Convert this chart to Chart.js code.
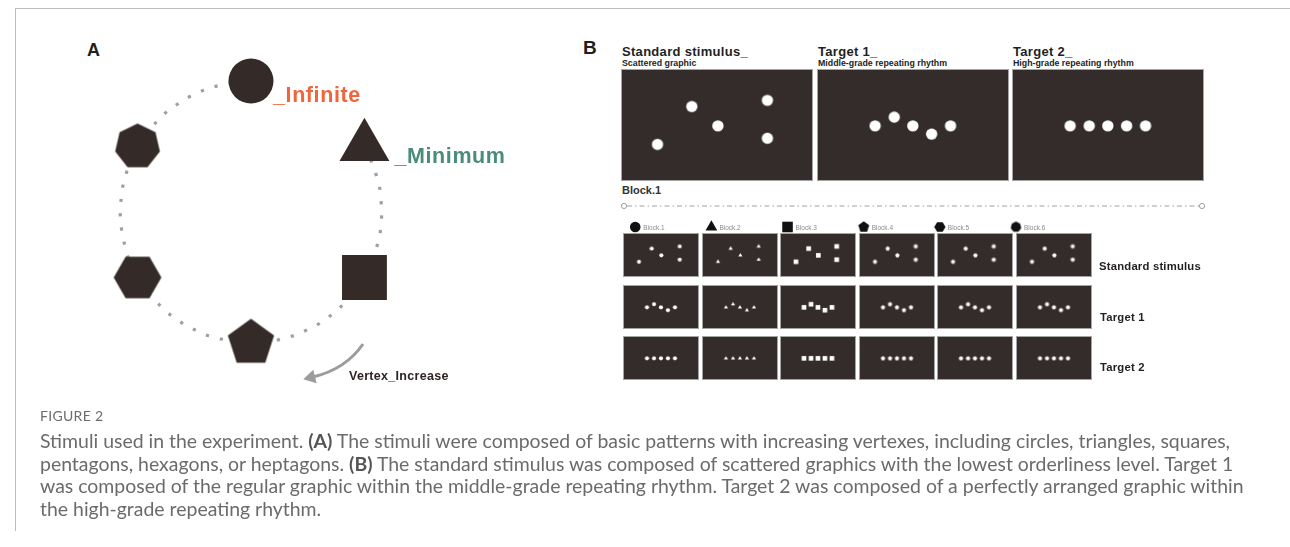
<!DOCTYPE html>
<html>
<head>
<meta charset="utf-8">
<script src="https://cdn.jsdelivr.net/npm/chart.js@4.4.0/dist/chart.umd.min.js"></script>
<style>
html,body{margin:0;padding:0;background:#fff;}
#page{position:relative;width:1290px;height:547px;overflow:hidden;font-family:"Liberation Sans",Arial,sans-serif;color:#231f1e;}
.t{position:absolute;white-space:nowrap;line-height:0;}
canvas{position:absolute;}
.frame{position:absolute;left:15px;top:8px;width:1290px;height:522px;border-top:1px solid #bdbdbd;border-left:1px solid #bdbdbd;}
.stim{background:#342c2a;border:1px solid #a4a4a4;}
#caption{position:absolute;left:40px;top:407px;font-family:Lato,"Open Sans",sans-serif;color:#6b6b6b;}
#caption .fig{font-size:14px;letter-spacing:0.3px;color:#6b6b6b;line-height:18px;}
#caption .body{font-size:17.4px;line-height:22.7px;white-space:nowrap;margin-top:5px;}
#caption b{color:#555;}
</style>
</head>
<body>
<div id="page">
  <div class="frame"></div>

  <!-- Panel A -->
  <div class="t" style="left:87px;top:50px;font-size:18px;font-weight:bold;">A</div>
  <canvas id="ringChart" width="560" height="400" style="left:0;top:0;"></canvas>

  <!-- Panel B -->
  <div class="t" style="left:583px;top:48px;font-size:19px;font-weight:bold;">B</div>
  <div class="t" style="left:622px;top:52px;font-size:13px;font-weight:bold;letter-spacing:0.3px;">Standard stimulus_</div>
  <div class="t" style="left:622px;top:62.5px;font-size:8.8px;font-weight:bold;">Scattered graphic</div>
  <div class="t" style="left:818px;top:52px;font-size:13px;font-weight:bold;letter-spacing:0.3px;">Target 1_</div>
  <div class="t" style="left:818px;top:62.5px;font-size:8.8px;font-weight:bold;">Middle-grade repeating rhythm</div>
  <div class="t" style="left:1013px;top:52px;font-size:13px;font-weight:bold;letter-spacing:0.3px;">Target 2_</div>
  <div class="t" style="left:1013px;top:62.5px;font-size:8.8px;font-weight:bold;">High-grade repeating rhythm</div>
  <div class="t" style="left:622px;top:190px;font-size:11px;font-weight:bold;color:#333;">Block.1</div>
  <svg style="position:absolute;left:0;top:0;" width="1290" height="547">
    <line x1="627" y1="206" x2="1199" y2="206" stroke="#a0a0a0" stroke-width="1" stroke-dasharray="5 3 1.5 3"/>
    <circle cx="624" cy="206" r="2.6" fill="#fff" stroke="#a0a0a0" stroke-width="1"/>
    <circle cx="1202" cy="206" r="2.6" fill="#fff" stroke="#a0a0a0" stroke-width="1"/>
  </svg>
  <canvas id="blockIcons" width="480" height="22" style="left:620px;top:216px;"></canvas>
  <div class="t" style="left:1099px;top:266px;font-size:11.3px;font-weight:bold;letter-spacing:0.2px;">Standard stimulus</div>
  <div class="t" style="left:1100px;top:317px;font-size:11.3px;font-weight:bold;letter-spacing:0.2px;">Target 1</div>
  <div class="t" style="left:1100px;top:367px;font-size:11.3px;font-weight:bold;letter-spacing:0.2px;">Target 2</div>

  <div id="caption">
    <div class="fig">FIGURE 2</div>
    <div class="body" id="capBody"><span id="capLine1">Stimuli used in the experiment. <b>(A)</b> The stimuli were composed of basic patterns with increasing vertexes, including circles, triangles, squares,</span><br>pentagons, hexagons, or heptagons. <b>(B)</b> The standard stimulus was composed of scattered graphics with the lowest orderliness level. Target 1<br>was composed of the regular graphic within the middle-grade repeating rhythm. Target 2 was composed of a perfectly arranged graphic within<br>the high-grade repeating rhythm.</div>
  </div>
</div>

<script>
// ================= DATA =================
// Panel A: shapes arranged on a ring (angle in degrees, clockwise from top)
const shapeNames    = ['circle', 'triangle', 'rect', 'pentagon', 'hexagon', 'heptagon'];
const shapeAngles   = [0, 60, 120, 180, 240, 300];
const shapeDistance = [1, 1, 1, 1, 1, 1];
const shapeLabels   = ['_Infinite', '_Minimum'];
const arrowLabel    = 'Vertex_Increase';
// Ring slots every 10 degrees
const ringAngles = [0,10,20,30,40,50,60,70,80,90,100,110,120,130,140,150,160,170,
                    180,190,200,210,220,230,240,250,260,270,280,290,300,310,320,330,340,350];
// Dotted path along the ring (gap between circle and triangle)
const ringPath   = [1,null,null,null,null,null,1,1,1,1,1,1,1,1,1,1,1,1,
                    1,1,1,1,1,1,1,1,1,1,1,1,1,1,1,1,1,1];

// Panel B: stimulus layouts (percent of frame width / height)
const scatteredX = [16.7, 35.9, 50.5, 78.2, 78.2];
const scatteredY = [69.6, 31.3, 50.9, 25.0, 63.4];
const target1X   = [28.8, 39.5, 49.9, 60.4, 71.0];
const target1Y   = [50.9, 42.0, 50.9, 59.2, 50.9];
const target2X   = [28.8, 39.5, 49.9, 60.4, 71.0];
const target2Y   = [50.9, 50.9, 50.9, 50.9, 50.9];
const blockNumbers = [1, 2, 3, 4, 5, 6];
const blockLabels  = ['Block.1', 'Block.2', 'Block.3', 'Block.4', 'Block.5', 'Block.6'];
const blockShapes  = ['circle', 'triangle', 'rect', 'pentagon', 'hexagon', 'heptagon'];
const rowNames     = ['Standard stimulus', 'Target 1', 'Target 2'];

// ================= CAPTION FIT =================
(function fitCaption() {
  const body = document.getElementById('capBody');
  const l1 = document.getElementById('capLine1');
  const target = 1190;
  const w = l1.getBoundingClientRect().width;
  if (w > 0) {
    const fs = parseFloat(getComputedStyle(body).fontSize);
    body.style.fontSize = (fs * target / w).toFixed(2) + 'px';
  }
})();

// ================= HELPERS =================
const DARK = '#342b29';
function polyImage(sides, R, color, startDeg) {
  const size = Math.ceil(2 * R + 2);
  const c = document.createElement('canvas');
  c.width = size; c.height = size;
  const g = c.getContext('2d');
  g.fillStyle = color;
  g.beginPath();
  for (let k = 0; k < sides; k++) {
    const a = (startDeg + k * 360 / sides) * Math.PI / 180;
    const px = size / 2 + R * Math.cos(a), py = size / 2 + R * Math.sin(a);
    if (k) g.lineTo(px, py); else g.moveTo(px, py);
  }
  g.closePath(); g.fill();
  return c;
}
// s = nominal half-size of mark in px
function markStyle(name, s, color) {
  switch (name) {
    case 'circle':   return {style: 'circle',   radius: s};
    case 'triangle': return {style: 'triangle', radius: s * 1.28};
    case 'rect':     return {style: 'rect',     radius: s * 1.41};
    case 'pentagon': return {style: polyImage(5, s * 1.08, color, -90), radius: s};
    case 'hexagon':  return {style: polyImage(6, s * 1.06, color, 0),   radius: s};
    case 'heptagon': return {style: polyImage(7, s * 1.02, color, -90), radius: s};
  }
}
const baseOpts = {
  responsive: false, animation: false, events: [],
  plugins: {legend: {display: false}, tooltip: {enabled: false}},
};

// ================= PANEL A =================
const ringStyles = shapeNames.map(n => markStyle(n, 22.5, DARK));
const slotOfShape = shapeAngles.map(a => ringAngles.indexOf(a));
const ringShapeData = ringAngles.map(a => {
  const k = shapeAngles.indexOf(a); return k < 0 ? null : shapeDistance[k];
});
const styleAt = i => { const k = slotOfShape.indexOf(i); return k < 0 ? null : ringStyles[k]; };

const ringTextPlugin = {
  id: 'ringText',
  afterDatasetsDraw(chart) {
    const ctx = chart.ctx, meta = chart.getDatasetMeta(0), r = chart.scales.r;
    const circ = meta.data[slotOfShape[0]], tri = meta.data[slotOfShape[1]];
    ctx.save();
    ctx.textBaseline = 'alphabetic';
    ctx.font = 'bold 21.5px "Liberation Sans", Arial, sans-serif';
    if ('letterSpacing' in ctx) ctx.letterSpacing = '0.6px';
    ctx.fillStyle = '#f0653a';
    ctx.fillText(shapeLabels[0], circ.x + 22, circ.y + 21);
    ctx.fillStyle = '#4a8b7b';
    ctx.fillText(shapeLabels[1], tri.x + 30, tri.y + 16.5);
    // arrow
    const cx = r.xCenter, cy = r.yCenter;
    const x0 = cx + 112, y0 = cy + 132, qx = cx + 95, qy = cy + 157, x1 = cx + 62, y1 = cy + 165;
    ctx.strokeStyle = '#9c9c9c'; ctx.fillStyle = '#9c9c9c'; ctx.lineWidth = 3;
    ctx.beginPath(); ctx.moveTo(x0, y0); ctx.quadraticCurveTo(qx, qy, x1, y1); ctx.stroke();
    let dx = x1 - qx, dy = y1 - qy; const L = Math.hypot(dx, dy); dx /= L; dy /= L;
    const tipX = x1 + dx * 10, tipY = y1 + dy * 10, nx = -dy, ny = dx;
    ctx.beginPath();
    ctx.moveTo(tipX, tipY);
    ctx.lineTo(x1 - dx * 2 + nx * 7, y1 - dy * 2 + ny * 7);
    ctx.lineTo(x1 - dx * 2 - nx * 7, y1 - dy * 2 - ny * 7);
    ctx.closePath(); ctx.fill();
    ctx.fillStyle = '#2b2523';
    ctx.font = 'bold 12.5px "Liberation Sans", Arial, sans-serif';
    if ('letterSpacing' in ctx) ctx.letterSpacing = '0.3px';
    ctx.fillText(arrowLabel, cx + 98, cy + 168);
    ctx.restore();
  }
};

new Chart(document.getElementById('ringChart'), {
  type: 'radar',
  data: {
    labels: ringAngles.map(a => a + '°'),
    datasets: [
      {
        label: 'Shapes', data: ringShapeData, order: 0, showLine: false, clip: false,
        pointStyle: ctx => { const s = styleAt(ctx.dataIndex); return s ? s.style : 'circle'; },
        pointRadius: ctx => { const s = styleAt(ctx.dataIndex); return s ? s.radius : 0; },
        pointBackgroundColor: DARK, pointBorderWidth: 0, pointBorderColor: DARK,
        backgroundColor: 'transparent'
      },
      {
        label: 'Path', data: ringPath, order: 1, clip: false, fill: false, spanGaps: false,
        borderColor: '#a0a0a0', borderWidth: 3.2, borderDash: [3.2, 11.2], tension: 0,
        pointRadius: 0, backgroundColor: 'transparent'
      }
    ]
  },
  options: {
    ...baseOpts,
    layout: {padding: {left: 120, top: 81, right: 178, bottom: 57}},
    scales: {r: {display: false, min: 0, max: 1, startAngle: 0,
      ticks: {display: false}, pointLabels: {display: false}}}
  },
  plugins: [ringTextPlugin]
});

// ================= PANEL B =================
function stimulusChart(left, top, w, h, xs, ys, shape, s) {
  const c = document.createElement('canvas');
  c.width = w; c.height = h; c.className = 'stim';
  c.style.left = left + 'px'; c.style.top = top + 'px';
  document.getElementById('page').appendChild(c);
  const st = markStyle(shape, s, '#ffffff');
  new Chart(c, {
    type: 'scatter',
    data: {datasets: [{
      data: xs.map((x, i) => ({x: x, y: ys[i]})),
      pointStyle: st.style, pointRadius: st.radius,
      backgroundColor: '#ffffff', borderColor: '#ffffff', borderWidth: 0, clip: false
    }]},
    options: {
      ...baseOpts,
      layout: {padding: 0},
      scales: {
        x: {type: 'linear', min: 0, max: 100, display: false},
        y: {type: 'linear', min: 0, max: 100, reverse: true, display: false}
      }
    }
  });
}
const patternsX = [scatteredX, target1X, target2X];
const patternsY = [scatteredY, target1Y, target2Y];

// Block 1 large frames
const bigLeft = [621, 817, 1012];
patternsX.forEach((px, k) => stimulusChart(bigLeft[k], 69, 192, 112, px, patternsY[k], 'circle', 5.7));

// Small grid: 6 blocks x 3 rows
const smallSize = {circle: 2.1, triangle: 1.9, rect: 2.4, pentagon: 2.2, hexagon: 2.2, heptagon: 2.2};
blockShapes.forEach((shape, b) => {
  const left = Math.round(623 + b * 78.6);
  [233, 285, 336].forEach((top, row) => {
    stimulusChart(left, top, 76, 44, patternsX[row], patternsY[row], shape, smallSize[shape]);
  });
});

// Block header icons
const iconStyles = blockShapes.map(n => markStyle(n, 5.3, '#111111'));
const iconLabelPlugin = {
  id: 'iconLabels',
  afterDatasetsDraw(chart) {
    const ctx = chart.ctx, meta = chart.getDatasetMeta(0);
    ctx.save();
    ctx.font = '6.5px "Liberation Sans", Arial, sans-serif';
    ctx.fillStyle = '#8a8a8a'; ctx.textBaseline = 'middle';
    meta.data.forEach((p, i) => ctx.fillText(blockLabels[i], p.x + 8, p.y + 1));
    ctx.restore();
  }
};
new Chart(document.getElementById('blockIcons'), {
  type: 'scatter',
  data: {datasets: [{
    data: blockNumbers.map(n => ({x: n, y: 0})),
    pointStyle: iconStyles.map(s => s.style),
    pointRadius: iconStyles.map(s => s.radius),
    backgroundColor: '#111111', borderWidth: 0, clip: false
  }]},
  options: {
    ...baseOpts,
    layout: {padding: 0},
    scales: {
      x: {type: 'linear', min: 0.898, max: 7.005, display: false},
      y: {type: 'linear', min: -1, max: 1, display: false}
    }
  },
  plugins: [iconLabelPlugin]
});
</script>
</body>
</html>
